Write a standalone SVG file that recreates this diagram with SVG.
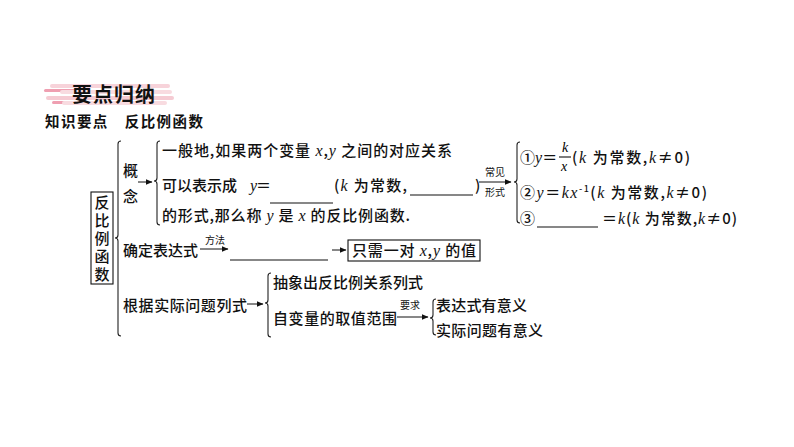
<svg xmlns="http://www.w3.org/2000/svg" width="794" height="447" viewBox="0 0 794 447">
<style>
.t{font-family:"Noto Sans CJK SC","Noto Sans",sans-serif;font-size:15px;font-weight:500;fill:#111;}
.s{font-family:"Noto Sans CJK SC","Noto Sans",sans-serif;font-size:10px;fill:#111;}
.v{font-family:"Liberation Serif",serif;font-style:italic;font-size:16px;}
.ln{stroke:#111;stroke-width:1.1;fill:none;}
.br{stroke:#222;stroke-width:1.1;fill:none;}
.ar{stroke:#111;stroke-width:1;fill:none;marker-end:url(#ah);}
</style>
<defs>
<marker id="ah" viewBox="0 0 7 6" refX="6.5" refY="3" markerWidth="7" markerHeight="6" markerUnits="userSpaceOnUse" orient="auto">
<path d="M0,0 L7,3 L0,6 z" fill="#111"/>
</marker>
</defs>
<rect width="794" height="447" fill="#fff"/>

<g id="title">
<rect x="50" y="84" width="120" height="4" rx="2" fill="#f7d3da"/>
<rect x="44" y="89" width="36" height="3" rx="1.5" fill="#ef9fb1"/>
<rect x="60" y="90" width="112" height="4" rx="2" fill="#f8dbe0"/>
<rect x="46" y="96" width="128" height="4" rx="2" fill="#f5cbd3"/>
<rect x="52" y="101" width="30" height="3" rx="1.5" fill="#ef9fb1"/>
<rect x="62" y="101" width="105" height="4" rx="2" fill="#f8dbe0"/>
<text x="72" y="102" style="font-family:'Noto Sans CJK SC',sans-serif;font-size:20px;font-weight:bold;fill:#111;letter-spacing:1px">要点归纳</text>
<text x="45" y="127" class="t" style="font-weight:bold;font-size:14.5px" textLength="158" lengthAdjust="spacing">知识要点　反比例函数</text>
</g>

<g id="root">
<rect x="91" y="192" width="22" height="92" class="ln"/>
<text x="102" y="195" class="t" style="writing-mode:vertical-rl;letter-spacing:3px">反比例函数</text>
</g>

<g id="concept">
<text x="123" y="176" class="t">概</text>
<text x="123" y="202" class="t">念</text>
<text x="162" y="156" class="t" textLength="290" lengthAdjust="spacing">一般地,如果两个变量 <tspan class="v">x</tspan>,<tspan class="v">y</tspan> 之间的对应关系</text>
<text x="162" y="191" class="t">可以表示成 <tspan class="v" x="250">y</tspan><tspan x="256">＝</tspan></text>
<text x="334" y="191" class="t" textLength="73" lengthAdjust="spacing">(<tspan class="v">k</tspan> 为常数,</text>
<text x="475" y="191" class="t">)</text>
<text x="162" y="221" class="t" textLength="248" lengthAdjust="spacing">的形式,那么称 <tspan class="v">y</tspan> 是 <tspan class="v">x</tspan> 的反比例函数.</text>
</g>

<g id="forms">
<text x="520" y="163" class="t">①<tspan class="v">y</tspan>＝</text>
<text x="562" y="152" class="v" style="font-size:14px">k</text>
<line x1="559" y1="157" x2="571" y2="157" class="ln"/>
<text x="561" y="171" class="v" style="font-size:14px">x</text>
<text x="572" y="163" class="t" textLength="118" lengthAdjust="spacing">(<tspan class="v">k</tspan> 为常数,<tspan class="v">k</tspan>≠0)</text>
<text x="520" y="198" class="t" textLength="187" lengthAdjust="spacing">②<tspan class="v">y</tspan>＝<tspan class="v">kx</tspan><tspan dy="-6" style="font-size:9px">-1</tspan><tspan dy="6">(</tspan><tspan class="v">k</tspan> 为常数,<tspan class="v">k</tspan>≠0)</text>
<text x="520" y="224" class="t">③</text>
<text x="602" y="224" class="t" textLength="135" lengthAdjust="spacing">＝<tspan class="v">k</tspan>(<tspan class="v">k</tspan> 为常数,<tspan class="v">k</tspan>≠0)</text>
</g>

<g id="determine">
<text x="123" y="256" class="t">确定表达式</text>
<text x="205" y="244" class="s">方法</text>
<rect x="348" y="240" width="132" height="21" class="ln"/>
<text x="352" y="256" class="t" textLength="124" lengthAdjust="spacing">只需一对 <tspan class="v">x</tspan>,<tspan class="v">y</tspan> 的值</text>
</g>

<g id="practical">
<text x="123" y="311" class="t" textLength="124" lengthAdjust="spacing">根据实际问题列式</text>
<text x="273" y="288" class="t" textLength="150" lengthAdjust="spacing">抽象出反比例关系列式</text>
<text x="273" y="324" class="t" textLength="124" lengthAdjust="spacing">自变量的取值范围</text>
<text x="400" y="309" class="s">要求</text>
<text x="436" y="311" class="t" textLength="91" lengthAdjust="spacing">表达式有意义</text>
<text x="436" y="336" class="t" textLength="107" lengthAdjust="spacing">实际问题有意义</text>
</g>

<g id="connectors">
<path class="br" d="M121,141 Q118,141 118,144 L118,235 Q118,238 115,238 Q118,238 118,241 L118,333 Q118,336 121,336"/>
<path class="br" d="M160,141 Q157,141 157,144 L157,178 Q157,181 154,181 Q157,181 157,184 L157,222 Q157,225 160,225"/>
<path class="br" d="M520,142 Q517,142 517,145 L517,179 Q517,182 514,182 Q517,182 517,185 L517,220 Q517,223 520,223"/>
<path class="br" d="M271,273 Q268,273 268,276 L268,300 Q268,303 265,303 Q268,303 268,306 L268,334 Q268,337 271,337"/>
<path class="br" d="M436,299 Q433,299 433,302 L433,315 Q433,318 430,318 Q433,318 433,321 L433,332 Q433,335 436,335"/>
<line class="ar" x1="138" y1="182" x2="152" y2="182"/>
<line class="ar" x1="479" y1="182" x2="511" y2="182"/>
<text x="485" y="176" class="s">常见</text>
<text x="485" y="196" class="s">形式</text>
<line class="ar" x1="200" y1="249" x2="228" y2="249"/>
<line class="ar" x1="332" y1="250" x2="346" y2="250"/>
<line class="ar" x1="247" y1="304" x2="263" y2="304"/>
<line class="ar" x1="397" y1="317" x2="428" y2="317"/>
<line class="ln" x1="270" y1="203" x2="333" y2="203"/>
<line class="ln" x1="410" y1="195" x2="473" y2="195"/>
<line class="ln" x1="537" y1="227" x2="598" y2="227"/>
<line class="ln" x1="230" y1="260" x2="328" y2="260"/>
</g>
</svg>
